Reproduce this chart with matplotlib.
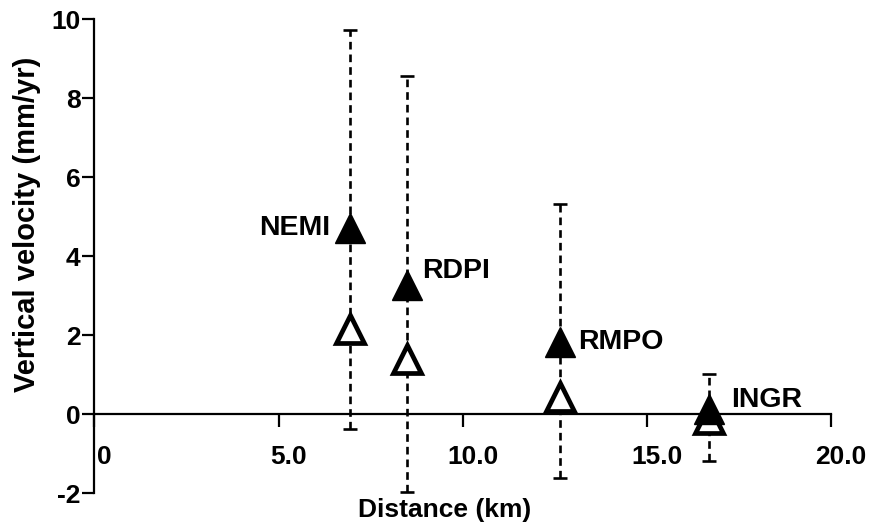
import matplotlib
matplotlib.use("Agg")
import matplotlib.pyplot as plt
import matplotlib.transforms as mtransforms

plt.rcParams['font.family'] = ['Liberation Sans', 'DejaVu Sans']
plt.rcParams['font.weight'] = 'bold'

# station data
stations = ["NEMI", "RDPI", "RMPO", "INGR"]
distance = [6.93, 8.49, 12.65, 16.68]
vel_filled = [4.71, 3.27, 1.82, 0.12]
vel_open = [2.16, 1.39, 0.44, -0.12]
err_top = [9.72, 8.55, 5.32, 1.01]
err_bottom = [-0.38, -1.97, -1.62, -1.20]

xticks = [0, 5, 10, 15, 20]
xticklabels = ["0", "5.0", "10.0", "15.0", "20.0"]
yticks = [-2, 0, 2, 4, 6, 8, 10]
yticklabels = ["-2", "0", "2", "4", "6", "8", "10"]

# label offsets in points (dx, dy, ha)
label_pos = [(-14, 0, 'right'), (11, 10, 'left'), (13, 0, 'left'), (16, 7, 'left')]

fig = plt.figure(figsize=(8.7, 5.29), dpi=100)
ax = fig.add_axes([0.1086, 0.068, 0.955 - 0.1086, 0.964 - 0.068])

lower = [v - b for v, b in zip(vel_filled, err_bottom)]
upper = [t - v for v, t in zip(vel_filled, err_top)]
eb = ax.errorbar(distance, vel_filled, yerr=[lower, upper], fmt='none', ecolor='black',
                 elinewidth=1.9, capsize=5, capthick=1.9, zorder=2)
eb[2][0].set_linestyle((0, (2.9, 1.9)))

ax.plot(distance, vel_open, ls='none', marker='^', markersize=19.5, markerfacecolor='white',
        markeredgecolor='black', markeredgewidth=3.4, zorder=3)
ax.plot(distance, vel_filled, ls='none', marker='^', markersize=21, color='black', zorder=4)

for name, x, y, (dx, dy, ha) in zip(stations, distance, vel_filled, label_pos):
    ax.annotate(name, (x, y), xytext=(dx, dy), textcoords='offset points',
                ha=ha, va='center', fontsize=20.5, fontweight='bold')

ax.set_xlim(0, 20)
ax.set_ylim(-2, 10)
ax.spines['top'].set_visible(False)
ax.spines['right'].set_visible(False)
ax.spines['bottom'].set_position(('data', 0))
ax.spines['left'].set_linewidth(1.6)
ax.spines['bottom'].set_linewidth(1.6)

ax.set_xticks(xticks)
ax.set_xticklabels(xticklabels, fontsize=19, fontweight='bold')
ax.set_yticks(yticks)
ax.set_yticklabels(yticklabels, fontsize=19, fontweight='bold')
ax.tick_params(axis='x', direction='out', length=9, width=1.6, pad=13)
ax.tick_params(axis='y', direction='out', length=9, width=1.6, pad=1)

offset = mtransforms.ScaledTranslation(0.1, 0, fig.dpi_scale_trans)
for lab in ax.get_xticklabels():
    lab.set_transform(lab.get_transform() + offset)

ax.set_xlabel("Distance (km)", fontsize=19, fontweight='bold')
ax.set_ylabel("Vertical velocity (mm/yr)", fontsize=21, fontweight='bold')
ax.xaxis.set_label_coords(0.476, -0.01)
ax.yaxis.set_label_coords(-0.072, 0.567)

fig.savefig("out.png", dpi=100)
